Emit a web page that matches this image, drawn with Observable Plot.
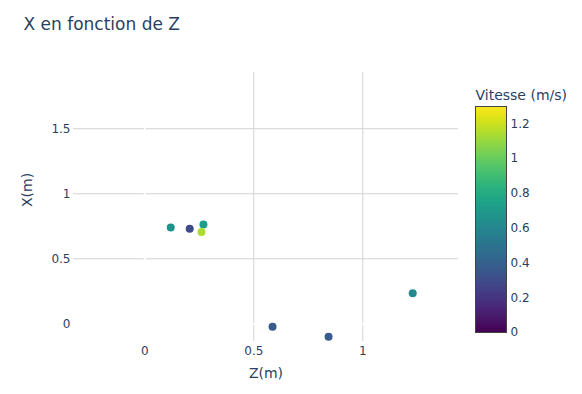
<!DOCTYPE html>
<html>
<head>
<meta charset="utf-8">
<script src="https://cdn.jsdelivr.net/npm/d3@7"></script>
<script src="https://cdn.jsdelivr.net/npm/@observablehq/plot@0.6"></script>
<style>
  body { margin: 0; background: #fff; }
  #wrap { position: relative; width: 582px; height: 394px; font-family: "DejaVu Sans", Verdana, sans-serif; }
  #wrap svg { position: absolute; overflow: visible; }
</style>
</head>
<body>
<div id="wrap"></div>
<script>
// Data
const zValues = [0.119, 0.206, 0.269, 0.260, 0.586, 0.843, 1.229];   // Z(m)
const xValues = [0.741, 0.731, 0.764, 0.705, -0.023, -0.100, 0.235]; // X(m)
const speeds  = [0.66, 0.29, 0.72, 1.14, 0.37, 0.37, 0.61];           // Vitesse (m/s)

const xTicks = [0, 0.5, 1];
const yTicks = [0, 0.5, 1, 1.5];
const cbTicks = [0, 0.2, 0.4, 0.6, 0.8, 1, 1.2];
const colorDomain = [0, 1.3];

const titleText = "X en fonction de Z";
const xTitle = "Z(m)";
const yTitle = "X(m)";
const cbTitle = "Vitesse (m/s)";

const data = zValues.map((z, i) => ({z, x: xValues[i], v: speeds[i]}));
const ink = "#2a3f5f";
const grid = "#d3d3d3";

const main = Plot.plot({
  width: 582,
  height: 394,
  marginLeft: 73,
  marginRight: 124,
  marginTop: 72,
  marginBottom: 53,
  style: {fontFamily: "DejaVu Sans, Verdana, sans-serif", fontSize: "12px", color: ink, background: "white"},
  x: {domain: [-0.327, 1.439]},
  y: {domain: [-0.136, 1.932]},
  color: {type: "linear", scheme: "viridis", domain: colorDomain},
  marks: [
    Plot.gridX(xTicks.filter(d => d !== 0), {stroke: grid, strokeOpacity: 1}),
    Plot.gridY(yTicks.filter(d => d !== 0), {stroke: grid, strokeOpacity: 1}),
    Plot.ruleX([0], {stroke: "white", strokeWidth: 2}),
    Plot.ruleY([0], {stroke: "white", strokeWidth: 2}),
    Plot.axisX({ticks: xTicks, tickSize: 0, tickPadding: 5, tickFormat: d => String(d), label: null, fill: ink}),
    Plot.axisY({ticks: yTicks, tickSize: 0, tickPadding: 3, tickFormat: d => String(d), label: null, fill: ink}),
    Plot.dot(data, {x: "z", y: "x", fill: "v", r: 4, stroke: null}),
    Plot.text([xTitle], {frameAnchor: "bottom", dy: 36, fontSize: 14, fill: ink}),
    Plot.text([yTitle], {frameAnchor: "left", dx: -46, rotate: -90, fontSize: 14, fill: ink}),
    Plot.text([titleText], {frameAnchor: "top-left", dx: -50, dy: -55, textAnchor: "start", fontSize: 17, fill: ink})
  ]
});
main.style.left = "0px";
main.style.top = "0px";

// Colour bar (continuous ramp of the colour scale)
const step = 0.004;
const stops = d3.range(colorDomain[0], colorDomain[1], step);
const cb = Plot.plot({
  width: 122,
  height: 300,
  marginLeft: 15,
  marginRight: 76,
  marginTop: 46,
  marginBottom: 28,
  style: {fontFamily: "DejaVu Sans, Verdana, sans-serif", fontSize: "12px", color: ink, background: "transparent"},
  x: {domain: [0, 1], axis: null},
  y: {domain: colorDomain},
  color: {type: "linear", scheme: "viridis", domain: colorDomain},
  marks: [
    Plot.rect(stops, {x1: 0, x2: 1, y1: d => d, y2: d => Math.min(d + step * 2, colorDomain[1]), fill: d => d, shapeRendering: "crispEdges"}),
    Plot.frame({stroke: "#444", strokeWidth: 1}),
    Plot.axisY({anchor: "right", ticks: cbTicks, tickSize: 0, tickPadding: 4, tickFormat: d => String(d), label: null, fill: ink}),
    Plot.text([cbTitle], {frameAnchor: "top-left", dy: -16, textAnchor: "start", fontSize: 14, fill: ink})
  ]
});
cb.style.left = "460px";
cb.style.top = "60px";

const wrap = document.getElementById("wrap");
wrap.appendChild(main);
wrap.appendChild(cb);
</script>
</body>
</html>
